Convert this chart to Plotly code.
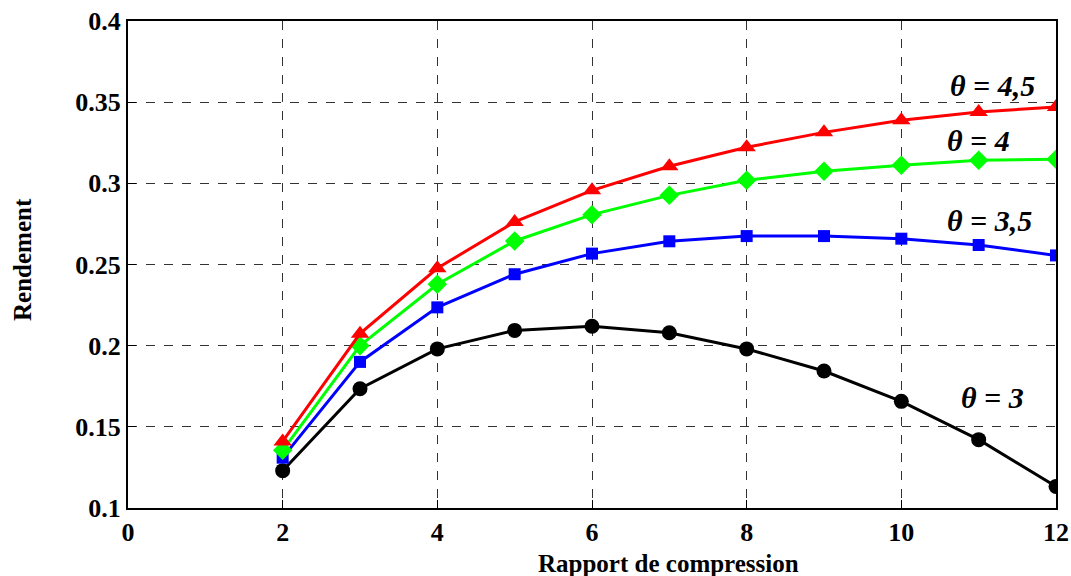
import plotly.graph_objects as go

# Compression ratio values
rapport = [2, 3, 4, 5, 6, 7, 8, 9, 10, 11, 12]

# Efficiency for each temperature ratio theta
rend_theta_3 = [0.123, 0.1735, 0.198, 0.2094, 0.212, 0.208, 0.198, 0.1844, 0.1657, 0.1421, 0.1133]
rend_theta_35 = [0.131, 0.190, 0.2236, 0.244, 0.2567, 0.2643, 0.2675, 0.2675, 0.2659, 0.262, 0.2556]
rend_theta_4 = [0.1355, 0.200, 0.2378, 0.2645, 0.2807, 0.2926, 0.3019, 0.3074, 0.3111, 0.3142, 0.3148]
rend_theta_45 = [0.141, 0.2074, 0.2477, 0.2762, 0.2957, 0.3105, 0.3222, 0.3314, 0.3388, 0.344, 0.347]

series = [
    (rend_theta_3, "black", "circle", 15),
    (rend_theta_35, "#0000ff", "square", 12),
    (rend_theta_4, "#00ff00", "diamond", 15),
    (rend_theta_45, "#ff0000", "triangle-up", 16),
]

labels = [
    ("θ = 4,5", 11.18, 0.3604),
    ("θ = 4", 11.0, 0.3265),
    ("θ = 3,5", 11.14, 0.2773),
    ("θ = 3", 11.18, 0.1682),
]

serif = "Liberation Serif"

fig = go.Figure()
for vals, color, sym, size in series:
    fig.add_trace(go.Scatter(
        x=rapport, y=vals, mode="lines+markers",
        line=dict(color=color, width=3),
        marker=dict(symbol=sym, size=size, color=color),
        showlegend=False,
    ))

for text, x, y in labels:
    fig.add_annotation(
        x=x, y=y, text=f"<b><i>{text}</i></b>", showarrow=False,
        font=dict(family=serif, size=30, color="black"),
        xanchor="center", yanchor="middle",
    )

# Axis titles
fig.add_annotation(
    x=668, y=563, xref="paper", yref="paper", text="<b>Rapport de compression</b>",
    showarrow=False, font=dict(family=serif, size=25, color="black"),
    xanchor="center", yanchor="middle",
)
fig.add_annotation(
    x=22, y=260, xref="paper", yref="paper", text="<b>Rendement</b>", textangle=-90,
    showarrow=False, font=dict(family=serif, size=25, color="black"),
    xanchor="center", yanchor="middle",
)

# Convert pixel positions of the axis titles to paper fractions
W, H = 1071, 576
L, R, T, B = 128, 15, 21, 68
for ann in fig.layout.annotations:
    if ann.xref == "paper":
        ann.x = (ann.x - L) / (W - L - R)
        ann.y = 1 - (ann.y - T) / (H - T - B)

fig.update_layout(
    width=W, height=H,
    margin=dict(l=L, r=R, t=T, b=B, autoexpand=False),
    paper_bgcolor="white", plot_bgcolor="white",
    font=dict(family=serif, color="black"),
    xaxis=dict(
        range=[0, 12], dtick=2, tick0=0, automargin=False,
        showline=True, linecolor="black", linewidth=2, mirror=True,
        showgrid=True, gridcolor="#333333", gridwidth=1, griddash="dash",
        zeroline=False, ticks="inside", ticklen=8, tickcolor="black",
        tickfont=dict(family=serif, size=26, color="black", weight="bold"),
    ),
    yaxis=dict(
        range=[0.1, 0.4], dtick=0.05, tick0=0.1, automargin=False,
        showline=True, linecolor="black", linewidth=2, mirror=True,
        showgrid=True, gridcolor="#333333", gridwidth=1, griddash="dash",
        zeroline=False, ticks="inside", ticklen=8, tickcolor="black",
        tickfont=dict(family=serif, size=26, color="black", weight="bold"),
    ),
)

fig.write_html("out.html")
